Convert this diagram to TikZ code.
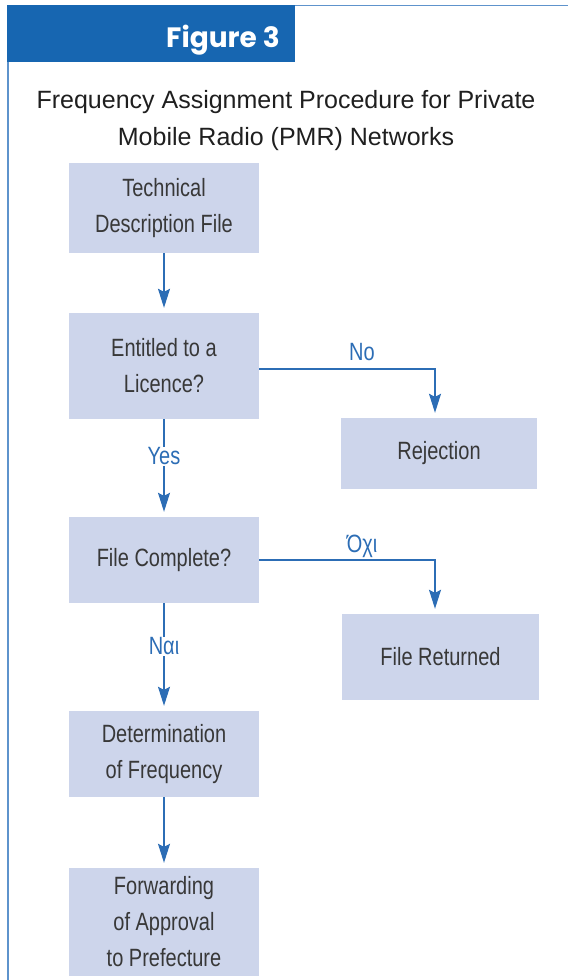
\documentclass[tikz,border=0pt]{standalone}
\usepackage{fontspec}
\setmainfont{Liberation Sans}
\newfontfamily\boxfont{Liberation Sans}[FakeStretch=0.8]
\newfontfamily\figfont{Poppins}
\usetikzlibrary{arrows.meta}
\definecolor{hdrblue}{HTML}{1766B1}
\definecolor{thinblue}{HTML}{5E93CC}
\definecolor{boxfill}{HTML}{CDD5EB}
\definecolor{lineblue}{HTML}{2C6DB5}
\definecolor{boxtext}{HTML}{383838}
\tikzset{
  stepbox/.style={fill=boxfill, draw=none, minimum width=190pt, text=boxtext,
    font=\boxfont\fontsize{25}{36}\selectfont, align=center, inner sep=0pt},
  flow/.style={draw=lineblue, line width=1.3pt,
    -{Stealth[length=19pt,width=12pt,inset=3pt]}, shorten >=5pt},
  lbl/.style={text=lineblue, font=\boxfont\fontsize{25}{30}\selectfont, inner sep=1pt}
}
\begin{document}
\begin{tikzpicture}[x=1pt,y=-1pt]
\useasboundingbox (0,0) rectangle (568,980);
% header
\fill[hdrblue] (7,5) rectangle (295,62);
\draw[thinblue, line width=1.5pt] (295,5.5) -- (568,5.5);
\draw[thinblue, line width=1.5pt] (8,62) -- (8,980);
\node[text=white, font=\figfont\bfseries\fontsize{28}{30}\selectfont, anchor=base] (fig) at (223,47) {Figure 3};
% title
\node[font=\fontsize{25}{37}\selectfont, text=black!88, align=center] (title) at (286,121)
  {Frequency Assignment Procedure for Private\\Mobile Radio (PMR) Networks};
% boxes
\node[stepbox, minimum height=90pt] (tdf) at (164,208) {Technical\\Description File};
\node[stepbox, minimum height=106pt] (ent) at (164,366) {Entitled to a\\Licence?};
\node[stepbox, minimum width=196pt, minimum height=71pt] (rej) at (439,453.5) {Rejection};
\node[stepbox, minimum height=86pt] (fc) at (164,560) {File Complete?};
\node[stepbox, minimum width=197pt, minimum height=86pt] (fr) at (440.5,657) {File Returned};
\node[stepbox, minimum height=86pt] (det) at (164,754) {Determination\\of Frequency};
\node[stepbox, minimum height=108pt] (fwd) at (164,922) {Forwarding\\of Approval\\to Prefecture};
% connectors
\coordinate (c1) at (435,369);
\coordinate (c2) at (435,560);
\draw[flow] (tdf) -- (ent);
\draw[flow] (ent) -- node[lbl, fill=white, pos=0.38] {Yes} (fc);
\draw[flow] (fc) -- node[lbl, fill=white, pos=0.40] {Ναι} (det);
\draw[flow] (det) -- (fwd);
\draw[flow] (ent.east |- c1) -- (c1) -- (c1 |- rej.north);
\draw[flow] (fc.east |- c2) -- (c2) -- (c2 |- fr.north);
\node[lbl] (no) at (362,352) {No};
\node[lbl] (ochi) at (362,546) {Όχι};
\end{tikzpicture}
\end{document}
